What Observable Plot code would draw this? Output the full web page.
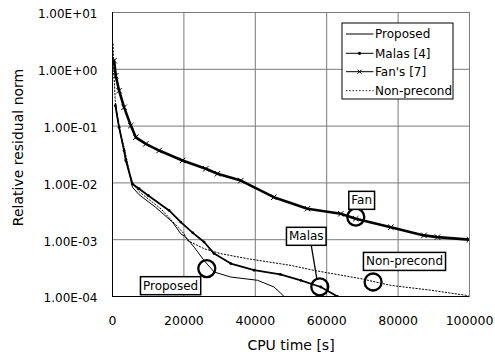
<!DOCTYPE html>
<html><head><meta charset="utf-8">
<script src="https://cdn.jsdelivr.net/npm/d3@7"></script>
<script src="https://cdn.jsdelivr.net/npm/@observablehq/plot@0.6"></script>
<style>body{margin:0;background:#fff}</style>
</head><body><div id="chart"></div>
<script>
const xTicks = [0, 20000, 40000, 60000, 80000, 100000];
const yTicks = [1e-4, 1e-3, 1e-2, 1e-1, 1, 10];
const yTickLabels = ["1.00E-04", "1.00E-03", "1.00E-02", "1.00E-01", "1.00E+00", "1.00E+01"];
const xTitle = "CPU time [s]";
const yTitle = "Relative residual norm";
const seriesNames = ["Proposed", "Malas [4]", "Fan's [7]", "Non-precond"];

const proposedTime = [800, 1850, 3250, 4300, 5600, 7450, 12130, 16800, 19130, 20530, 22860, 25660, 28460, 33140, 40610, 45260, 48070];
const proposedNorm = [0.25, 0.095, 0.037, 0.019, 0.0084, 0.0062, 0.0037, 0.00204, 0.00127, 0.00111, 0.00074, 0.00043, 0.00027, 0.00022, 0.000193, 0.000147, 0.0001];

const malasTime = [800, 1850, 3250, 3730, 5600, 7450, 10000, 15850, 19130, 22500, 25660, 28460, 33140, 39660, 47000, 52740, 58350, 63020];
const malasNorm = [0.23, 0.095, 0.037, 0.0248, 0.0096, 0.0079, 0.006, 0.00327, 0.00204, 0.00132, 0.00091, 0.00057, 0.00038, 0.00029, 0.000245, 0.000193, 0.000147, 0.0001];

const fanTime = [450, 920, 1850, 3250, 5130, 6530, 9330, 13050, 19610, 26130, 29410, 35940, 45180, 54620, 63950, 68150, 77950, 87250, 91030, 100000];
const fanNorm = [1.42, 0.77, 0.42, 0.214, 0.102, 0.0635, 0.0486, 0.0371, 0.0248, 0.0177, 0.0145, 0.011, 0.0056, 0.00351, 0.00286, 0.00234, 0.00166, 0.00119, 0.00111, 0.001];

const nonTime = [170, 360, 780, 1760, 3450, 5400, 7450, 13530, 20060, 21010, 25660, 30330, 37810, 49940, 56470, 69550, 77950, 89160, 98960, 100000];
const nonNorm = [2.78, 0.94, 0.28, 0.1, 0.037, 0.0103, 0.007, 0.0035, 0.00127, 0.00097, 0.000695, 0.000568, 0.000463, 0.000353, 0.000288, 0.000206, 0.000157, 0.000129, 0.000105, 0.0001];

const calloutText = ["Fan", "Malas", "Non-precond", "Proposed"];
const calloutX = [69800, 54280, 81790, 16270];
const calloutY = [0.0049, 0.00114, 0.000412, 0.000154];
const circleX = [68150, 58070, 73000, 26410];
const circleY = [0.0025, 0.000148, 0.00018, 0.00031];
const leaderFrom = [55680, 0.00079];
const leaderTo = [57220, 0.000209];

const rows = (t, v) => t.map((x, i) => ({t: x, v: v[i]}));
const propRows = rows(proposedTime, proposedNorm);
const malasRows = rows(malasTime, malasNorm);
const fanRows = rows(fanTime, fanNorm);
const nonRows = rows(nonTime, nonNorm);
const callouts = calloutText.map((s, i) => ({s, x: calloutX[i], y: calloutY[i]}));
const circles = circleX.map((x, i) => ({x, y: circleY[i]}));

const plot = Plot.plot({
  width: 495, height: 360,
  marginLeft: 112, marginRight: 26, marginTop: 12, marginBottom: 64,
  style: {fontFamily: "DejaVu Sans", fontSize: "12.5px", background: "#fff", color: "#000"},
  x: {domain: [0, 100000], axis: null},
  y: {type: "log", domain: [1e-4, 10], axis: null},
  marks: [
    Plot.gridX(xTicks, {stroke: "#7a7a7a", strokeOpacity: 1}),
    Plot.gridY(yTicks, {stroke: "#7a7a7a", strokeOpacity: 1}),
    Plot.frame({stroke: "#7a7a7a"}),
    Plot.ruleX([0], {stroke: "#000"}),
    Plot.ruleY([1e-4], {stroke: "#000"}),
    Plot.axisX(xTicks, {tickSize: 0, tickPadding: 20, tickFormat: d => String(d), fontSize: 12.5, label: null, fill: "#000"}),
    Plot.axisY(yTicks, {tickSize: 0, tickPadding: 15, tickFormat: d => yTickLabels[yTicks.indexOf(d)], fontSize: 12, label: null, fill: "#000", dy: 2}),
    Plot.line(nonRows, {x: "t", y: "v", stroke: "#000", strokeWidth: 1, strokeDasharray: "1.3,2", clip: true}),
    Plot.line(propRows, {x: "t", y: "v", stroke: "#000", strokeWidth: 1, clip: true}),
    Plot.line(malasRows, {x: "t", y: "v", stroke: "#000", strokeWidth: 1.8, clip: true}),
    Plot.dot(malasRows, {x: "t", y: "v", r: 1.4, fill: "#000", clip: true}),
    Plot.line(fanRows, {x: "t", y: "v", stroke: "#000", strokeWidth: 2.6, clip: true}),
    Plot.dot(fanRows, {x: "t", y: "v", symbol: "times", r: 2.6, stroke: "#000", strokeWidth: 1, clip: true}),
    Plot.link([0], {x1: () => leaderFrom[0], y1: () => leaderFrom[1], x2: () => leaderTo[0], y2: () => leaderTo[1], stroke: "#000", strokeWidth: 1.3}),
    Plot.dot(circles, {x: "x", y: "y", r: 8.5, stroke: "#000", strokeWidth: 2.3, fill: "none"}),
    Plot.text(callouts, {x: "x", y: "y", text: "s", fontSize: 12, fill: "#000"}),
    Plot.text([yTitle], {frameAnchor: "left", dx: -94, dy: -7, rotate: -90, text: d => d, fontSize: 14, fill: "#000", textAnchor: "middle", lineAnchor: "middle"}),
    Plot.text([xTitle], {frameAnchor: "bottom", dy: 49, text: d => d, fontSize: 14, fill: "#000", textAnchor: "middle", lineAnchor: "middle"})
  ]
});
document.getElementById("chart").appendChild(plot);

const NS = "http://www.w3.org/2000/svg";
function el(tag, attrs, parent, before) {
  const e = document.createElementNS(NS, tag);
  for (const k in attrs) e.setAttribute(k, attrs[k]);
  if (before) parent.insertBefore(e, before); else parent.appendChild(e);
  return e;
}

// boxes behind callout labels
Array.from(plot.querySelectorAll("text")).forEach(t => {
  if (!calloutText.includes(t.textContent)) return;
  const b = t.getBBox();
  const r = el("rect", {x: b.x - 2.5, y: b.y - 2, width: b.width + 5, height: b.height + 4,
    fill: "#fff", stroke: "#000", "stroke-width": 1.5}, t.parentNode, t);
  const tr = t.getAttribute("transform");
  if (tr) r.setAttribute("transform", tr);
});

// legend
const lg = el("g", {transform: "translate(342,23)", "font-family": "DejaVu Sans", "font-size": 12, "text-anchor": "start"}, plot);
el("rect", {x: 0, y: 0, width: 111, height: 76, fill: "#fff", stroke: "#000", "stroke-width": 1}, lg);
const ly = [11, 30.3, 48.7, 67.7];
seriesNames.forEach((name, i) => {
  const y = ly[i];
  const line = el("line", {x1: 4, x2: 31.5, y1: y, y2: y, stroke: "#000", "stroke-width": 1}, lg);
  if (i === 3) line.setAttribute("stroke-dasharray", "1.3,2");
  if (i === 1) el("circle", {cx: 17.5, cy: y, r: 1.6, fill: "#000"}, lg);
  if (i === 2) el("path", {d: `M15.5,${y-2}L19.5,${y+2}M15.5,${y+2}L19.5,${y-2}`, stroke: "#000", "stroke-width": 1}, lg);
  const tx = el("text", {x: 33, y: y, dy: "0.35em", fill: "#000", "text-anchor": "start"}, lg);
  tx.textContent = name;
});
</script>
</body></html>
